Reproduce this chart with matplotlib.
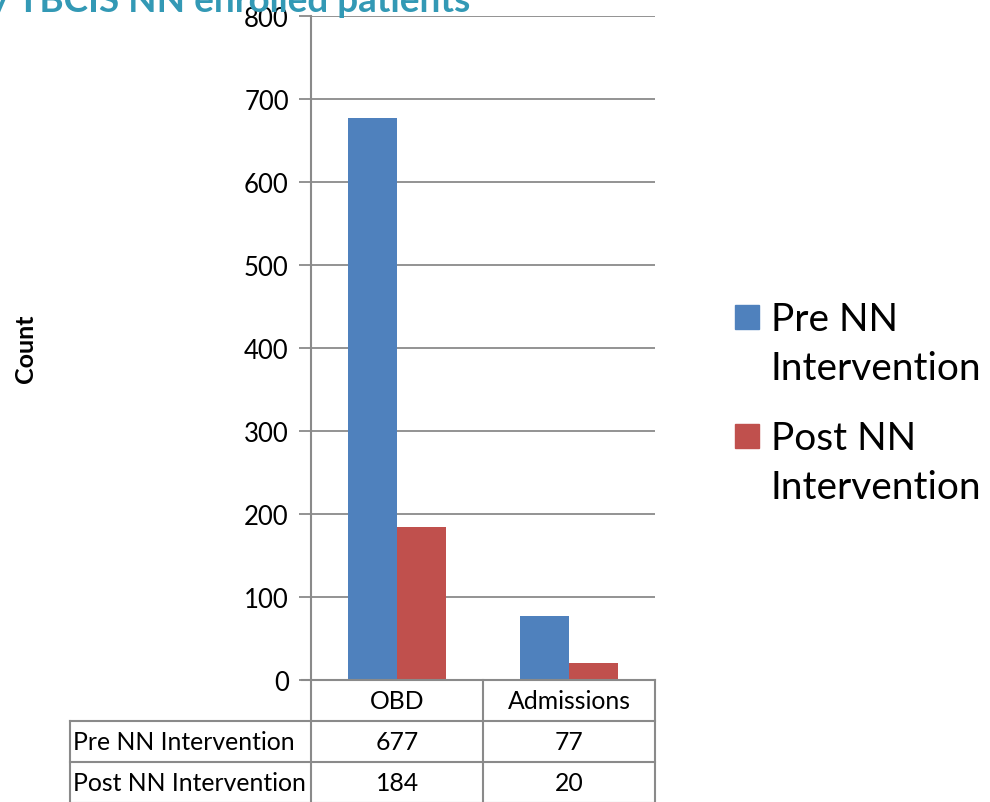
import matplotlib
matplotlib.use("Agg")
import matplotlib.pyplot as plt
from matplotlib.lines import Line2D
from matplotlib.patches import Rectangle
import numpy as np

plt.rcParams['font.family'] = ['Lato', 'DejaVu Sans']

categories = ['OBD', 'Admissions']
series_names = ['Pre NN Intervention', 'Post NN Intervention']
legend_labels = ['Pre NN\nIntervention', 'Post NN\nIntervention']
pre_values = [677, 77]
post_values = [184, 20]
y_ticks = [0, 100, 200, 300, 400, 500, 600, 700, 800]
title = 'by TBCIS NN enrolled patients'

W, H = 990, 803
fig = plt.figure(figsize=(W / 100, H / 100), dpi=100)


def fx(x):
    return x / W


def fy(y):
    return 1 - y / H


ax_l, ax_r, ax_t, ax_b = 311, 655, 17.3, 681
ax = fig.add_axes([fx(ax_l), fy(ax_b), fx(ax_r - ax_l), (ax_b - ax_t) / H])

grid_col = '#8a8a8a'
blue = '#4F81BD'
red = '#C0504D'
colors = [blue, red]

x = np.arange(len(categories))
bw = 0.285
ax.bar(x - bw / 2, pre_values, bw, color=blue, edgecolor='none', zorder=3)
ax.bar(x + bw / 2, post_values, bw, color=red, edgecolor='none', zorder=3)

ax.set_xlim(-0.5, len(categories) - 0.5)
ax.set_ylim(0, 800)
ax.set_yticks(y_ticks)
ax.tick_params(axis='y', length=9, width=1.3, color=grid_col, labelsize=18.5, pad=7)
ax.set_xticks([])
ax.yaxis.grid(True, color=grid_col, linewidth=1.3, zorder=0)
for s in ['top', 'right', 'bottom']:
    ax.spines[s].set_visible(False)
ax.spines['left'].set_color(grid_col)
ax.spines['left'].set_linewidth(1.5)

fig.text(fx(25), fy(349), 'Count', rotation=90, ha='center', va='center',
         fontsize=18, fontweight='bold')

# data table under the plot
col_x = [70, 311, 483, 655]
row_y = [681, 722, 763, 804]
lw = 1.5
tsize = 17.8


def hline(y, x0, x1):
    fig.add_artist(Line2D([fx(x0), fx(x1)], [fy(y), fy(y)], color=grid_col, lw=lw))


def vline(x, y0, y1):
    fig.add_artist(Line2D([fx(x), fx(x)], [fy(y0), fy(y1)], color=grid_col, lw=lw))


hline(row_y[0], col_x[1] - 9, col_x[3])
for y in row_y[1:]:
    hline(y, col_x[0], col_x[3])
vline(col_x[0], row_y[1], row_y[3])
for cx in col_x[1:]:
    vline(cx, row_y[0], row_y[3])

for i, cat in enumerate(categories):
    xc = (col_x[i + 1] + col_x[i + 2]) / 2
    fig.text(fx(xc), fy((row_y[0] + row_y[1]) / 2), cat, ha='center', va='center', fontsize=tsize)

rows = [pre_values, post_values]
for r, (name, vals) in enumerate(zip(series_names, rows)):
    yc = (row_y[r + 1] + row_y[r + 2]) / 2
    fig.text(fx(col_x[0] + 3), fy(yc), name, ha='left', va='center', fontsize=tsize)
    for i, v in enumerate(vals):
        xc = (col_x[i + 1] + col_x[i + 2]) / 2
        fig.text(fx(xc), fy(yc), str(v), ha='center', va='center', fontsize=tsize)

# legend, keys aligned with first text line
leg_top = [306, 425]
for lab, col, top in zip(legend_labels, colors, leg_top):
    fig.add_artist(Rectangle((fx(735), fy(top + 24)), fx(24), 24 / H, color=col,
                             transform=fig.transFigure))
    fig.text(fx(771), fy(top - 4), lab, ha='left', va='top', fontsize=28,
             linespacing=1.45, transform=fig.transFigure)

fig.text(fx(470), fy(12), title, ha='right', va='baseline', fontsize=26.6,
         fontweight='bold', color='#3399B5')

fig.savefig('out.png', dpi=100)
